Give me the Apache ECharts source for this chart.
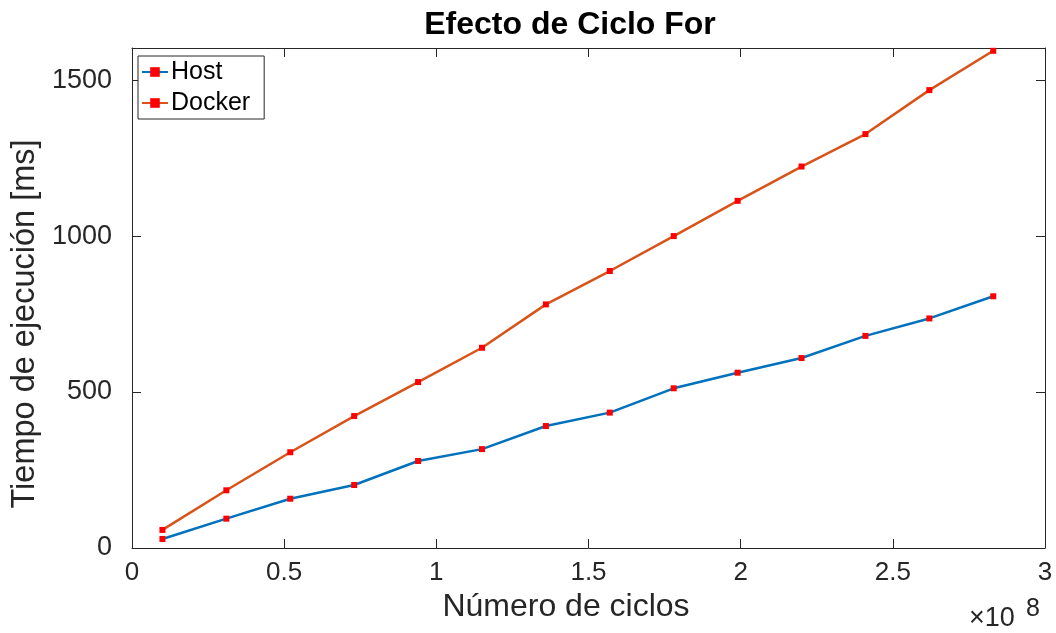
<!DOCTYPE html>
<html>
<head>
<meta charset="utf-8">
<script src="https://cdn.jsdelivr.net/npm/echarts@6/dist/echarts.min.js"></script>
<style>
  html, body { margin: 0; padding: 0; background: #fff; }
  #main { width: 1056px; height: 633px; }
</style>
</head>
<body>
<div id="main"></div>
<script>
// numero de ciclos (x) y tiempos medidos en ms
var ciclos = [1.0e7, 3.1e7, 5.2e7, 7.3e7, 9.4e7, 1.15e8, 1.36e8, 1.57e8, 1.78e8, 1.99e8, 2.20e8, 2.41e8, 2.62e8, 2.83e8];
var hostMs = [29, 94, 158, 202, 279, 317, 391, 434, 512, 562, 609, 680, 736, 807];
var dockerMs = [58, 185, 307, 423, 532, 642, 781, 888, 1000, 1113, 1223, 1327, 1468, 1594];

var fuente = 'Liberation Sans, Arial, Helvetica, sans-serif';
var eje = '#262626';

function pares(xs, ys) {
  return xs.map(function (x, i) { return [x, ys[i]]; });
}

// borde de caja estilo matlab: ticks hacia adentro en los 4 lados
function ejeBase(extra) {
  var base = {
    type: 'value',
    axisLine: { show: true, onZero: false, lineStyle: { color: eje, width: 1 } },
    axisTick: { show: true, inside: true, length: 9, lineStyle: { color: eje } },
    splitLine: { show: false }
  };
  return Object.assign(base, extra);
}

var myChart = echarts.init(document.getElementById('main'));

var option = {
  backgroundColor: '#fff',
  animation: false,
  title: {
    text: 'Efecto de Ciclo For',
    left: 565,
    top: 4,
    textAlign: 'center',
    textStyle: { fontFamily: fuente, fontSize: 32, fontWeight: 'bold', color: '#000' }
  },
  legend: {
    orient: 'vertical',
    left: 138,
    top: 56,
    itemGap: 3,
    itemWidth: 26,
    itemHeight: 12,
    padding: [2, 14, 2, 3],
    backgroundColor: '#fff',
    borderColor: eje,
    borderWidth: 1,
    borderRadius: 0,
    textStyle: { fontFamily: fuente, fontSize: 25, color: '#000', lineHeight: 28, padding: [0, 0, 0, -2] },
    data: ['Host', 'Docker']
  },
  grid: { left: 132, right: 11, top: 48, bottom: 85 },
  xAxis: [
    ejeBase({
      min: 0, max: 3e8, interval: 0.5e8,
      name: 'Número de ciclos',
      nameLocation: 'middle',
      nameGap: 41,
      nameTextStyle: { fontFamily: fuente, fontSize: 32, color: eje, padding: [0, 45, 0, 0] },
      axisLabel: {
        fontFamily: fuente, fontSize: 26, color: eje, margin: 12,
        formatter: function (v) { return String(+(v / 1e8).toFixed(1)); }
      }
    }),
    ejeBase({ position: 'top', min: 0, max: 3e8, interval: 0.5e8, axisLabel: { show: false } })
  ],
  yAxis: [
    ejeBase({
      min: 0, max: 1603, interval: 500,
      name: 'Tiempo de ejecución [ms]',
      nameLocation: 'middle',
      nameGap: 87,
      nameTextStyle: { fontFamily: fuente, fontSize: 32.5, color: eje, padding: [0, 52, 0, 0] },
      axisLabel: {
        fontFamily: fuente, fontSize: 27, color: eje, margin: 20, showMaxLabel: false,
        formatter: function (v) { return String(v); }
      }
    }),
    ejeBase({ position: 'right', min: 0, max: 1603, interval: 500, axisLabel: { show: false } })
  ],
  graphic: [{
    type: 'text',
    left: 969,
    top: 605,
    style: { text: '×10', fontFamily: fuente, fontSize: 27, fill: eje }
  }, {
    type: 'text',
    left: 1026,
    top: 597,
    style: { text: '8', fontFamily: fuente, fontSize: 25, fill: eje }
  }],
  series: [{
    name: 'Host',
    type: 'line',
    data: pares(ciclos, hostMs),
    color: '#0072BD',
    lineStyle: { width: 2.5, color: '#0072BD' },
    symbol: 'rect',
    symbolSize: 6,
    itemStyle: { color: '#FF0000', borderWidth: 0 },
    z: 3
  }, {
    name: 'Docker',
    type: 'line',
    data: pares(ciclos, dockerMs),
    color: '#D95319',
    lineStyle: { width: 2.5, color: '#D95319' },
    symbol: 'rect',
    symbolSize: 6,
    itemStyle: { color: '#FF0000', borderWidth: 0 },
    z: 4
  }]
};

myChart.setOption(option);
</script>
</body>
</html>
